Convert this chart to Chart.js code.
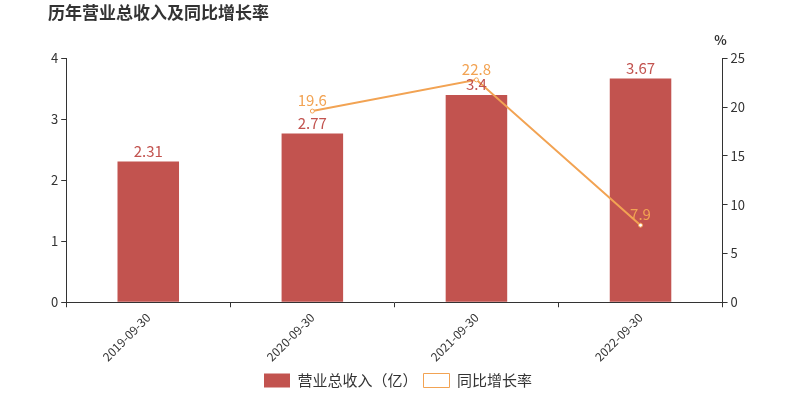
<!DOCTYPE html>
<html><head><meta charset="utf-8">
<script src="https://cdn.jsdelivr.net/npm/chart.js@4"></script>
<style>body{margin:0;background:#fff}#wrap{width:800px;height:400px;position:relative}</style>
</head><body><div id="wrap"><canvas id="c"></canvas></div>
<script>
const categories = ['2019-09-30', '2020-09-30', '2021-09-30', '2022-09-30'];
const revenue = [2.31, 2.77, 3.4, 3.67];
const growth = [null, 19.6, 22.8, 7.9];

const font = "'Noto Sans CJK SC', sans-serif";
const barColor = 'rgb(194,83,79)';
const lineColor = 'rgb(242,163,83)';

const labelPlugin = {
  id: 'labels',
  afterDatasetsDraw(chart) {
    const ctx = chart.ctx;
    ctx.save();
    ctx.font = '15px ' + font;
    ctx.textAlign = 'center';
    ctx.textBaseline = 'bottom';
    chart.data.datasets.forEach((ds, i) => {
      chart.getDatasetMeta(i).data.forEach((el, j) => {
        if (ds.data[j] == null) return;
        ctx.fillStyle = ds.type === 'line' ? lineColor : barColor;
        ctx.fillText(String(ds.data[j]), el.x, el.y - 3);
      });
    });
    // unit above right axis
    const y1 = chart.scales.y1;
    ctx.fillStyle = '#333';
    ctx.font = 'bold 13px ' + font;
    ctx.fillText('%', y1.left - 2, y1.top - 12);
    ctx.restore();
  }
};

new Chart(document.getElementById('c'), {
  data: {
    labels: categories,
    datasets: [
      { type: 'bar', label: '营业总收入（亿）', data: revenue, yAxisID: 'y', backgroundColor: barColor,
        barPercentage: 0.375, categoryPercentage: 1, order: 1 },
      { type: 'line', label: '同比增长率', data: growth, yAxisID: 'y1', borderColor: lineColor,
        backgroundColor: '#fff', borderWidth: 2, pointRadius: 2, pointBorderWidth: 1, order: 0 }
    ]
  },
  plugins: [labelPlugin],
  options: {
    responsive: true, maintainAspectRatio: false, animation: false,
    layout: { padding: { left: 48, right: 52, top: 0, bottom: 2 } },
    plugins: {
      title: { display: true, text: '历年营业总收入及同比增长率', align: 'start',
        color: '#333', font: { family: font, size: 17, weight: 'bold' }, padding: { top: 2, bottom: 36 } },
      legend: { position: 'bottom',
        labels: { font: { family: font, size: 15 }, color: '#333', boxWidth: 26, boxHeight: 14, padding: 6,
          generateLabels(chart) {
            return chart.data.datasets.map((d, i) => ({
              text: d.label, datasetIndex: i,
              fillStyle: d.type === 'line' ? '#fff' : barColor,
              strokeStyle: d.type === 'line' ? lineColor : barColor,
              lineWidth: d.type === 'line' ? 1 : 0,
              fontColor: '#333'
            }));
          } } },
      tooltip: { enabled: false }
    },
    scales: {
      x: { grid: { display: true, drawOnChartArea: false, offset: true, color: '#333', tickLength: 5 },
        border: { color: '#333' },
        ticks: { color: '#333', font: { family: font, size: 12 }, maxRotation: 45, minRotation: 45 } },
      y: { position: 'left', min: 0, max: 4,
        ticks: { stepSize: 1, color: '#333', font: { family: font, size: 13 } },
        grid: { display: true, drawOnChartArea: false, color: '#333', tickLength: 5 }, border: { color: '#333' } },
      y1: { position: 'right', min: 0, max: 25,
        ticks: { stepSize: 5, color: '#333', font: { family: font, size: 13 } },
        grid: { display: true, drawOnChartArea: false, color: '#333', tickLength: 5 }, border: { color: '#333' } }
    }
  }
});
</script></body></html>
